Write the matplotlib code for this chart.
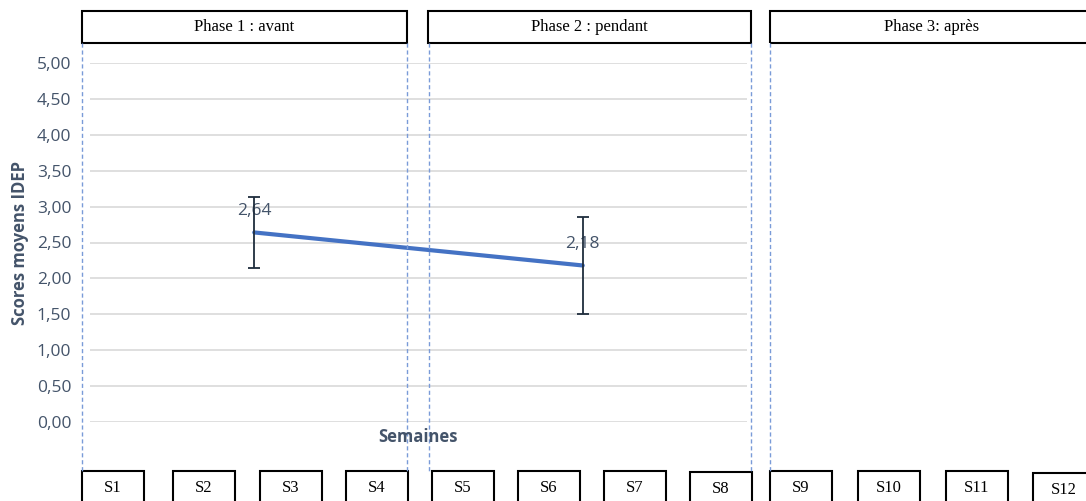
import matplotlib
matplotlib.use("Agg")
import matplotlib.pyplot as plt
from matplotlib.patches import Rectangle
from matplotlib.lines import Line2D

# ---- data ----
categories = ["Phase 1", "Phase 2"]
means = [2.64, 2.18]
errors = [0.49, 0.68]
mean_labels = ["2,64", "2,18"]
y_ticks = [0.0, 0.5, 1.0, 1.5, 2.0, 2.5, 3.0, 3.5, 4.0, 4.5, 5.0]
y_tick_labels = ["0,00", "0,50", "1,00", "1,50", "2,00", "2,50", "3,00", "3,50", "4,00", "4,50", "5,00"]
phase_labels = ["Phase 1 : avant", "Phase 2 : pendant", "Phase 3: après"]
week_labels = ["S1", "S2", "S3", "S4", "S5", "S6", "S7", "S8", "S9", "S10", "S11", "S12"]

W, H = 1086, 501
fig = plt.figure(figsize=(W / 100, H / 100), dpi=100)

def fx(px):
    return px / W

def fy(py):
    return 1 - py / H

text_col = "#44546A"
ax = fig.add_axes([fx(90), fy(422), fx(747) - fx(90), fy(63) - fy(422)])
x = [0.5, 1.5]
ax.plot(x, means, color="#4472C4", lw=3, solid_capstyle="round", zorder=3)
ax.errorbar(x, means, yerr=errors, fmt="none", ecolor="#1F2D3D", elinewidth=1.3,
            capsize=4.5, capthick=1.3, zorder=4)
for xi, m, lab in zip(x, means, mean_labels):
    ax.annotate(lab, (xi, m), xytext=(0, 10), textcoords="offset points",
                ha="center", va="bottom", fontsize=12.5, color=text_col, family="Open Sans")
ax.set_xlim(0, 2)
ax.set_ylim(0, 5)
ax.set_yticks(y_ticks)
ax.set_yticklabels(y_tick_labels, fontsize=12.5, color=text_col, family="Open Sans")
ax.set_xticks([])
ax.tick_params(axis="y", length=0, pad=13.5)
ax.grid(axis="y", color="#D9D9D9", lw=1.2)
ax.set_axisbelow(True)
for s in ax.spines.values():
    s.set_visible(False)
ax.patch.set_alpha(0)

fig.text(fx(418), fy(437), "Semaines", ha="center", va="center", fontsize=12,
         fontweight="bold", color=text_col, family="Open Sans")
fig.text(fx(20), fy(243), "Scores moyens IDEP", ha="center", va="center", rotation=90,
         fontsize=12, fontweight="bold", color=text_col, family="Open Sans")

# phase boxes
phase_x = [(82, 407), (428, 751), (770, 1095)]
phase_tx = [244, 589, 932]
for (x0, x1), tx, lab in zip(phase_x, phase_tx, phase_labels):
    fig.patches.append(Rectangle((fx(x0), fy(43)), fx(x1) - fx(x0), fy(11) - fy(43),
                                 transform=fig.transFigure, fill=False, ec="black", lw=1.5))
    fig.text(fx(tx), fy(27), lab, ha="center", va="center", fontsize=12,
             family="Liberation Serif")

# dashed phase separators
for xp in [82, 407, 429, 751, 770]:
    fig.lines.append(Line2D([fx(xp), fx(xp)], [fy(43), fy(471)], transform=fig.transFigure,
                            color="#7A9BD8", lw=1, ls=(0, (3, 2))))

# week boxes
week_x = [82, 173, 260, 346, 432, 518, 604, 690, 770, 858, 946, 1033]
week_top = [471, 471, 471, 471, 471, 471, 471, 472, 471, 471, 471, 473]
for xl, top, lab in zip(week_x, week_top, week_labels):
    fig.patches.append(Rectangle((fx(xl), fy(510)), fx(62), fy(top) - fy(510),
                                 transform=fig.transFigure, fill=False, ec="black", lw=1.5))
    fig.text(fx(xl + 31), fy(top + 17), lab, ha="center", va="center", fontsize=12,
             family="Liberation Serif")

fig.savefig("out.png", dpi=100)
